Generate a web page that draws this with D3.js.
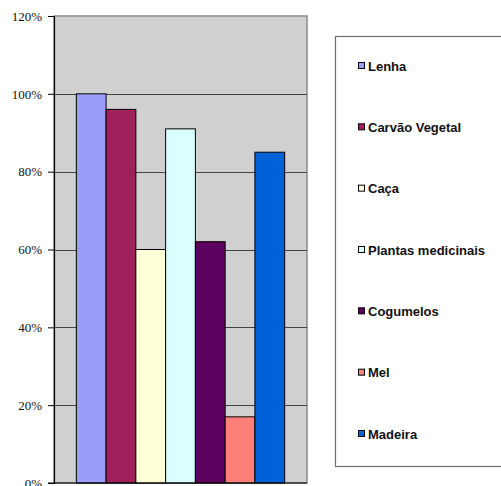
<!DOCTYPE html>
<html>
<head>
<meta charset="utf-8">
<script src="https://cdn.jsdelivr.net/npm/d3@7"></script>
<style>
  html, body { margin: 0; padding: 0; background: #fff; }
  svg { display: block; }
</style>
</head>
<body>
<svg id="chart" width="501" height="486"></svg>
<script>
// Products gathered from the forest, share of respondents
const categories = ["Lenha", "Carvão Vegetal", "Caça", "Plantas medicinais", "Cogumelos", "Mel", "Madeira"];
const values = [1.00, 0.96, 0.60, 0.91, 0.62, 0.17, 0.85];
const colors = ["#9C9CFA", "#A0205C", "#FFFFD8", "#DAFFFF", "#5E0060", "#FF8078", "#0062D8"];
const yTicks = [0, 0.2, 0.4, 0.6, 0.8, 1.0, 1.2];
const tickLabels = ["0%", "20%", "40%", "60%", "80%", "100%", "120%"];

const svg = d3.select("#chart");

const plot = { left: 54, top: 16, right: 307, bottom: 483 };

const y = d3.scaleLinear().domain([0, 1.2]).range([plot.bottom, plot.top]);

// Excel-style cluster: 7 bars with a 150% gap split on both sides
const x = d3.scaleBand()
  .domain(categories)
  .range([plot.left, plot.right])
  .paddingInner(0)
  .paddingOuter(0.75);

// plot background
svg.append("rect")
  .attr("x", plot.left).attr("y", plot.top)
  .attr("width", plot.right - plot.left).attr("height", plot.bottom - plot.top)
  .attr("fill", "#D0D0D0")
  .attr("stroke", "#8A8A8A").attr("stroke-width", 1.5);

// gridlines
svg.append("g")
  .selectAll("line")
  .data(yTicks.filter(d => d > 0 && d < 1.2))
  .join("line")
  .attr("x1", plot.left).attr("x2", plot.right)
  .attr("y1", d => Math.round(y(d)) + 0.5).attr("y2", d => Math.round(y(d)) + 0.5)
  .attr("stroke", "#444").attr("stroke-width", 1);

// bars
svg.append("g")
  .selectAll("rect")
  .data(categories)
  .join("rect")
  .attr("x", d => x(d))
  .attr("y", (d, i) => y(values[i]))
  .attr("width", x.bandwidth())
  .attr("height", (d, i) => plot.bottom - y(values[i]))
  .attr("fill", (d, i) => colors[i])
  .attr("stroke", "#000").attr("stroke-width", 1);

// y axis
const yAxis = d3.axisLeft(y)
  .tickValues(yTicks)
  .tickFormat((d, i) => tickLabels[i])
  .tickSize(6)
  .tickPadding(6);

const ax = svg.append("g")
  .attr("transform", `translate(${plot.left},0)`)
  .call(yAxis);
ax.select(".domain").attr("stroke", "#000").attr("stroke-width", 1.2);
ax.selectAll(".tick line").attr("stroke", "#000");
ax.selectAll(".tick text")
  .attr("font-family", "'Liberation Serif', 'Times New Roman', serif")
  .attr("font-size", 13)
  .attr("fill", "#111");

// bottom axis line
svg.append("line")
  .attr("x1", plot.left - 6).attr("x2", plot.right)
  .attr("y1", plot.bottom).attr("y2", plot.bottom)
  .attr("stroke", "#000").attr("stroke-width", 1.2);

// legend
const legend = svg.append("g");
legend.append("rect")
  .attr("x", 335.5).attr("y", 36.5)
  .attr("width", 200).attr("height", 430)
  .attr("fill", "#fff")
  .attr("stroke", "#6e6e6e").attr("stroke-width", 1.2);

const ly = d3.scalePoint().domain(categories).range([66, 434]);

const items = legend.selectAll("g.item")
  .data(categories)
  .join("g")
  .attr("class", "item")
  .attr("transform", d => `translate(358,${ly(d)})`);

items.append("rect")
  .attr("x", 0.5).attr("y", -3.5)
  .attr("width", 6).attr("height", 6)
  .attr("fill", (d, i) => colors[i])
  .attr("stroke", "#000").attr("stroke-width", 1);

items.append("text")
  .attr("x", 10).attr("y", 0)
  .attr("dy", "0.35em")
  .attr("font-family", "'Liberation Sans', Arial, sans-serif")
  .attr("font-size", 13)
  .attr("font-weight", "bold")
  .attr("fill", "#111")
  .text(d => d);
</script>
</body>
</html>
